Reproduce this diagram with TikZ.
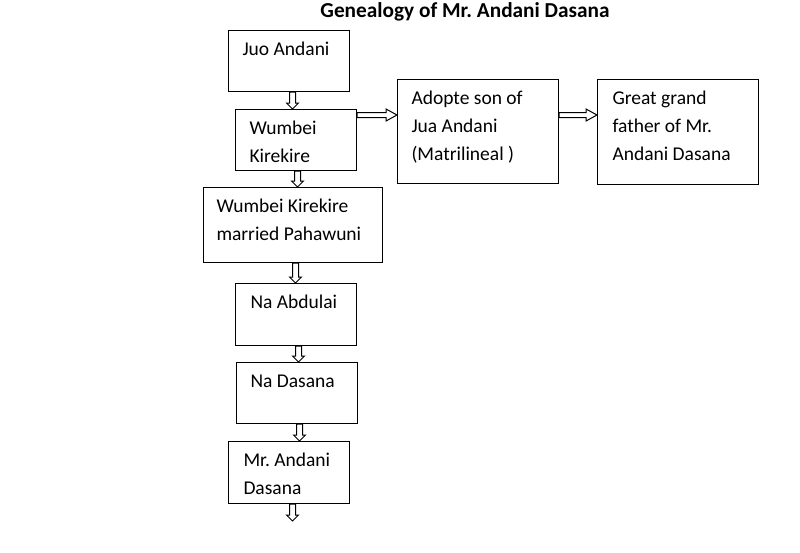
\documentclass[tikz,border=0pt]{standalone}
\usepackage{fontspec}
\setmainfont{Carlito}
\usetikzlibrary{calc,positioning}
\newcommand\boxtext[4]{\parbox[c][#2pt][t]{#1pt}{\leftskip=#3pt\rightskip=0pt plus 1fil\rule{0pt}{25pt}#4}}
\frenchspacing

\begin{document}
\begin{tikzpicture}[
  x=1pt, y=-1pt,
  font=\fontsize{19.5}{28}\selectfont,
  gbox/.style = {draw, line width=1pt, anchor=north west, inner sep=0pt},
  darrow/.style = {draw, line width=1pt, fill=white, to path={
      let \p1=(\tikztostart), \p2=(\tikztotarget) in
      ({\x1-3pt},\y1) -- ({\x1-3pt},{\y2+6pt}) -- ({\x1-6pt},{\y2+6pt}) -- (\x1,\y2)
      -- ({\x1+6pt},{\y2+6pt}) -- ({\x1+3pt},{\y2+6pt}) -- ({\x1+3pt},\y1) -- cycle}},
  rarrow/.style = {draw, line width=1pt, fill=white, to path={
      let \p1=(\tikztostart), \p2=(\tikztotarget) in
      (\x1,{\y1+2.5pt}) -- ({\x2-11pt},{\y1+2.5pt}) -- ({\x2-11pt},{\y1+6pt}) -- (\x2,\y1)
      -- ({\x2-11pt},{\y1-6pt}) -- ({\x2-11pt},{\y1-2.5pt}) -- (\x1,{\y1-2.5pt}) -- cycle}}
  ]
  \useasboundingbox (0,0) rectangle (800,552);
  % Title
  \node[font=\fontsize{21.3}{24}\selectfont\bfseries] (title) at (465,12) {Genealogy of Mr. Andani Dasana};
  % Boxes
  \foreach \name/\x/\y/\w/\h/\ind/\txt in {
    juo/228/30/121/61/14/{Juo Andani},
    wumbei/235/109/121/61/14/{Wumbei\\Kirekire},
    adopte/397/79/161/104/14/{Adopte son of\\Jua Andani\\(Matrilineal )},
    great/597/79/161/105/15/{Great grand\\father of Mr.\\Andani Dasana},
    married/203/187/179/75/13/{Wumbei Kirekire\\married Pahawuni},
    abdulai/235/283/121/62/15/{Na Abdulai},
    dasana/236/362/121/61/14/{Na Dasana},
    andani/228/441/121/62/15/{Mr. Andani\\Dasana}}
    \node[gbox] (\name) at (\x,\y) {\boxtext{\w}{\h}{\ind}{\txt}};
  \coordinate (bottom) at (292,521);
  % Down arrows
  \draw[darrow] ([xshift=3.5pt]juo.south) to (wumbei.north);
  \draw[darrow] ([xshift=1.5pt]wumbei.south) to (married.north);
  \draw[darrow] ([xshift=2.5pt]married.south) to (abdulai.north);
  \draw[darrow] ([xshift=2.5pt]abdulai.south) to (dasana.north);
  \draw[darrow] ([xshift=2.5pt]dasana.south) to (andani.north);
  \draw[darrow] ([xshift=3.5pt]andani.south) to (bottom);
  % Right arrows
  \draw[rarrow] ([yshift=-6pt]wumbei.north east) to (adopte.west);
  \draw[rarrow] ([yshift=-36pt]adopte.north east) to (great.west);
\end{tikzpicture}
\end{document}
